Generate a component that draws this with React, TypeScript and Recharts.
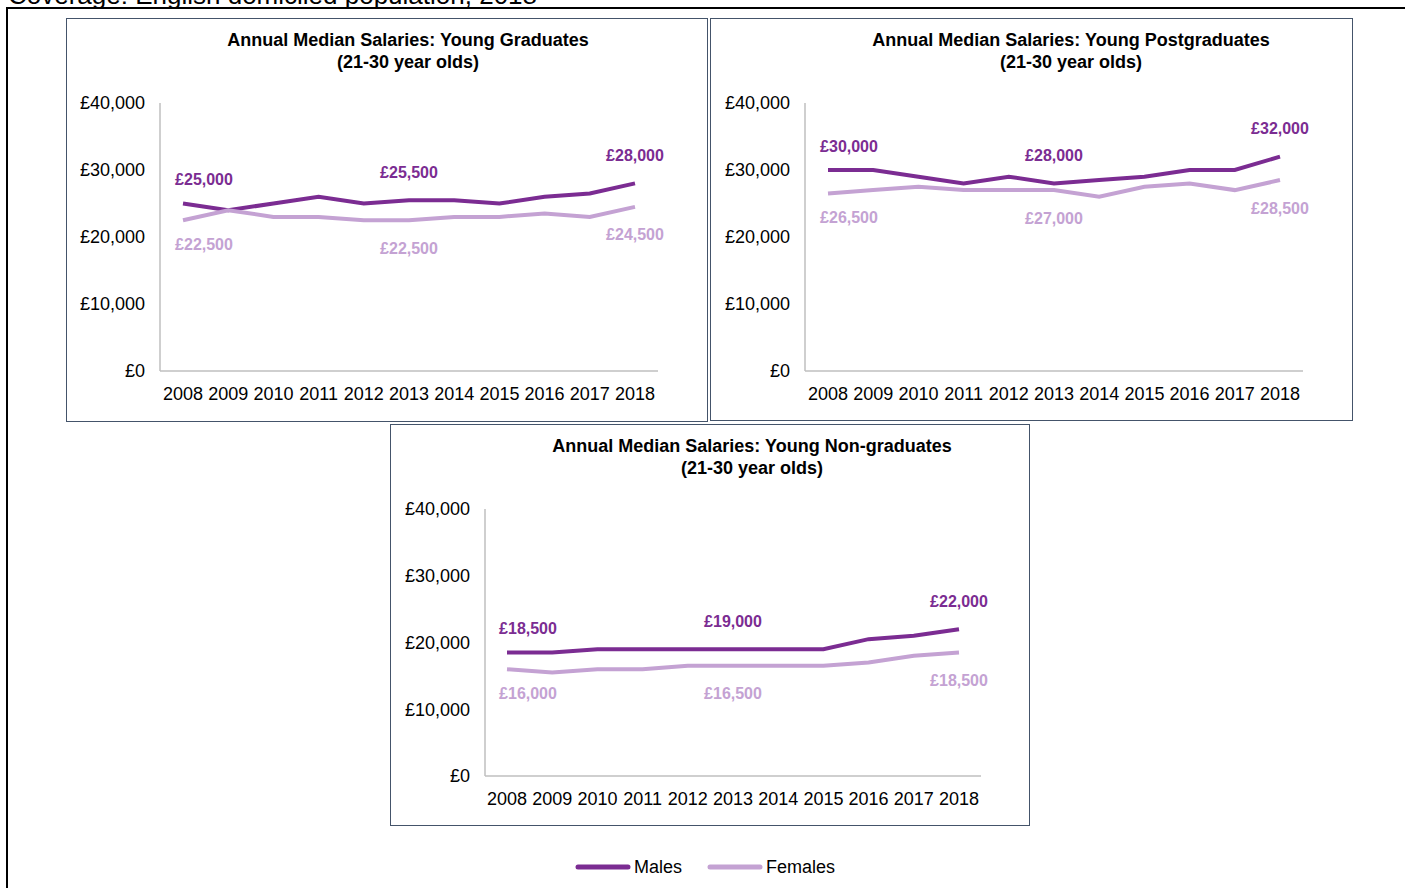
import { LineChart, Line, XAxis, YAxis } from 'recharts';

const years = ['2008', '2009', '2010', '2011', '2012', '2013', '2014', '2015', '2016', '2017', '2018'];

const gradMales = [25000, 24000, 25000, 26000, 25000, 25500, 25500, 25000, 26000, 26500, 28000];
const gradFemales = [22500, 24000, 23000, 23000, 22500, 22500, 23000, 23000, 23500, 23000, 24500];

const postMales = [30000, 30000, 29000, 28000, 29000, 28000, 28500, 29000, 30000, 30000, 32000];
const postFemales = [26500, 27000, 27500, 27000, 27000, 27000, 26000, 27500, 28000, 27000, 28500];

const nonGradMales = [18500, 18500, 19000, 19000, 19000, 19000, 19000, 19000, 20500, 21000, 22000];
const nonGradFemales = [16000, 15500, 16000, 16000, 16500, 16500, 16500, 16500, 17000, 18000, 18500];

const yTicks = [0, 10000, 20000, 30000, 40000];
const labelledYears = ['2008', '2013', '2018'];

const MALE = '#7b2c92';
const FEMALE = '#c4a2d3';
const AXIS = '#bfbfbf';
const FONT = '"Liberation Sans", Arial, sans-serif';

const money = (v: number) => `£${v.toLocaleString('en-GB')}`;

function makeLabel(color: string, below: boolean) {
  return (props: any) => {
    const { x, y, index, value } = props;
    if (!labelledYears.includes(years[index])) return null;
    const first = index === 0;
    const off = first ? 24 : 28;
    return (
      <text
        x={x + (first ? 21 : 0)}
        y={below ? y + off : y - off}
        textAnchor="middle"
        dominantBaseline="central"
        fill={color}
        fontSize={16}
        fontWeight="bold"
        fontFamily={FONT}
      >
        {money(value)}
      </text>
    );
  };
}

type PanelProps = {
  left: number;
  top: number;
  width: number;
  height: number;
  title: string;
  titleX: number;
  chartW: number;
  yWidth: number;
  marginRight: number;
  marginBottom: number;
  pad: number;
  males: number[];
  females: number[];
};

function Panel(p: PanelProps) {
  const data = years.map((year, i) => ({ year, males: p.males[i], females: p.females[i] }));
  return (
    <div
      style={{
        position: 'absolute',
        left: p.left,
        top: p.top,
        width: p.width,
        height: p.height,
        boxSizing: 'border-box',
        border: '1px solid #44546a',
        background: '#fff',
      }}
    >
      <div
        style={{
          position: 'absolute',
          left: p.titleX - 300,
          top: 10,
          width: 600,
          textAlign: 'center',
          fontFamily: FONT,
          fontWeight: 'bold',
          fontSize: 18,
          lineHeight: '22px',
          color: '#000',
        }}
      >
        {p.title}
        <br />
        (21-30 year olds)
      </div>
      <div style={{ position: 'absolute', left: 0, top: 0 }}>
        <LineChart
          width={p.chartW}
          height={400}
          data={data}
          margin={{ top: 84, right: p.marginRight, bottom: p.marginBottom, left: 0 }}
          style={{ fontFamily: FONT }}
        >
          <XAxis
            dataKey="year"
            interval={0}
            height={40}
            tickLine={false}
            tickSize={0}
            tickMargin={16}
            padding={{ left: p.pad, right: p.pad }}
            axisLine={{ stroke: AXIS, strokeWidth: 1.5 }}
            tick={{ fill: '#000', fontSize: 18 }}
          />
          <YAxis
            width={p.yWidth}
            domain={[0, 40000]}
            ticks={yTicks}
            tickFormatter={money}
            tickLine={false}
            tickSize={0}
            tickMargin={15}
            axisLine={{ stroke: AXIS, strokeWidth: 1.5 }}
            tick={{ fill: '#000', fontSize: 18 }}
          />
          <Line
            dataKey="males"
            stroke={MALE}
            strokeWidth={4}
            dot={false}
            isAnimationActive={false}
            label={makeLabel(MALE, false)}
          />
          <Line
            dataKey="females"
            stroke={FEMALE}
            strokeWidth={4}
            dot={false}
            isAnimationActive={false}
            label={makeLabel(FEMALE, true)}
          />
        </LineChart>
      </div>
    </div>
  );
}

export default function App() {
  return (
    <div
      style={{
        position: 'absolute',
        left: 0,
        top: 0,
        width: 1405,
        height: 888,
        overflow: 'hidden',
        background: '#fff',
        fontFamily: FONT,
      }}
    >
      <div
        style={{
          position: 'absolute',
          left: 8,
          top: -18,
          fontSize: 26,
          lineHeight: '26px',
          whiteSpace: 'nowrap',
          color: '#000',
        }}
      >
        Coverage: English domiciled population, 2018
      </div>
      <div
        style={{
          position: 'absolute',
          left: 6,
          top: 7,
          width: 1500,
          height: 1000,
          border: '2.5px solid #000',
        }}
      />
      <Panel
        left={66}
        top={18}
        width={642}
        height={404}
        title="Annual Median Salaries: Young Graduates"
        titleX={341}
        chartW={640}
        yWidth={93}
        marginRight={49}
        marginBottom={8}
        pad={23}
        males={gradMales}
        females={gradFemales}
      />
      <Panel
        left={710}
        top={18}
        width={643}
        height={403}
        title="Annual Median Salaries: Young Postgraduates"
        titleX={360}
        chartW={641}
        yWidth={94}
        marginRight={49}
        marginBottom={8}
        pad={23}
        males={postMales}
        females={postFemales}
      />
      <Panel
        left={390}
        top={424}
        width={640}
        height={402}
        title="Annual Median Salaries: Young Non-graduates"
        titleX={361}
        chartW={638}
        yWidth={94}
        marginRight={48}
        marginBottom={9}
        pad={22}
        males={nonGradMales}
        females={nonGradFemales}
      />
      <svg style={{ position: 'absolute', left: 0, top: 855 }} width={1405} height={25}>
        <line x1={578} y1={12} x2={628} y2={12} stroke={MALE} strokeWidth={5} strokeLinecap="round" />
        <line x1={710} y1={12} x2={760} y2={12} stroke={FEMALE} strokeWidth={5} strokeLinecap="round" />
      </svg>
      <div style={{ position: 'absolute', left: 634, top: 856, fontSize: 18, lineHeight: '22px' }}>Males</div>
      <div style={{ position: 'absolute', left: 766, top: 856, fontSize: 18, lineHeight: '22px' }}>Females</div>
    </div>
  );
}
